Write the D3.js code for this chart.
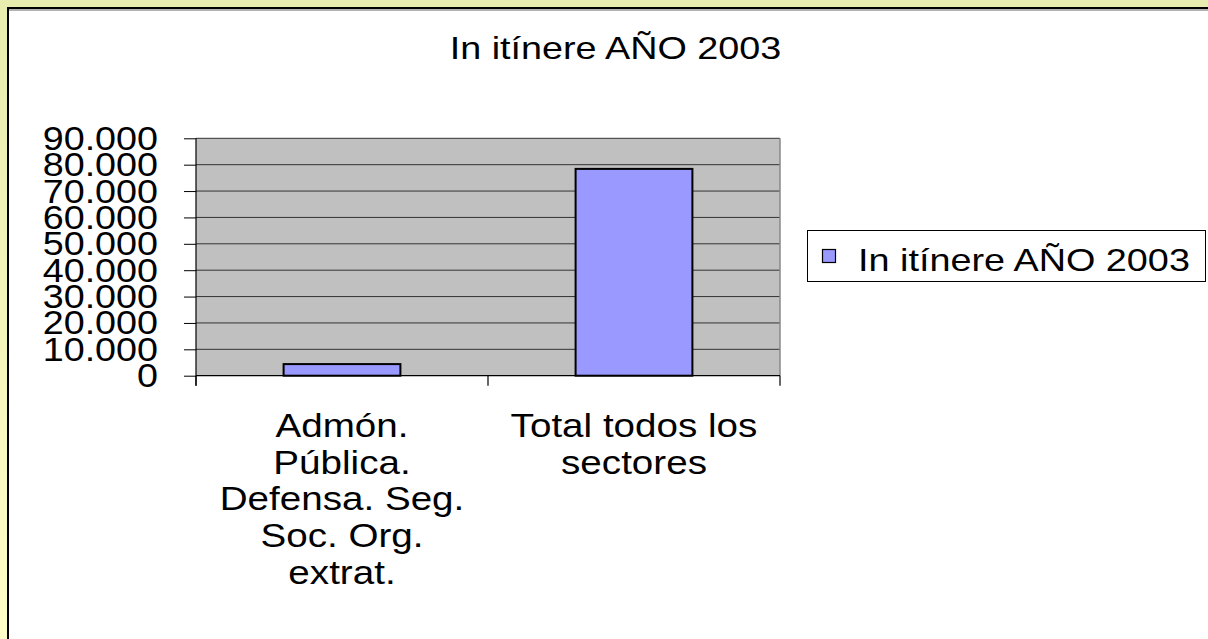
<!DOCTYPE html>
<html><head><meta charset="utf-8">
<script src="https://cdn.jsdelivr.net/npm/d3@7"></script>
<style>html,body{margin:0;padding:0;background:#fff;}svg{display:block;}</style>
</head><body>
<script>
const title = "In itínere AÑO 2003";
const seriesName = "In itínere AÑO 2003";
const categories = [
  ["Admón.", "Pública.", "Defensa. Seg.", "Soc. Org.", "extrat."],
  ["Total todos los", "sectores"]
];
const values = [4400, 78400];
const yTicks = [0, 10000, 20000, 30000, 40000, 50000, 60000, 70000, 80000, 90000];

(function () {
const W = 1208, H = 639;
const svg = d3.select("body").append("svg").attr("width", W).attr("height", H);
const defs = svg.append("defs");
const grad = defs.append("linearGradient").attr("id", "bg").attr("x1", 0).attr("y1", 0).attr("x2", 0).attr("y2", 1);
grad.append("stop").attr("offset", "0%").attr("stop-color", "#e8ecae");
grad.append("stop").attr("offset", "100%").attr("stop-color", "#fffdc8");
svg.append("rect").attr("width", W).attr("height", H).attr("fill", "url(#bg)");
svg.append("rect").attr("x", 8).attr("y", 8).attr("width", W + 10).attr("height", H + 10)
  .attr("fill", "#fff");
svg.append("line").attr("x1", 8).attr("x2", W).attr("y1", 10).attr("y2", 10).attr("stroke", "#999").attr("stroke-width", 1.5);
svg.append("line").attr("x1", 7).attr("x2", W).attr("y1", 8).attr("y2", 8).attr("stroke", "#000").attr("stroke-width", 2);
svg.append("line").attr("x1", 8).attr("x2", 8).attr("y1", 7).attr("y2", H).attr("stroke", "#000").attr("stroke-width", 2);

const font = "Liberation Sans, Arial, sans-serif";
function stext(g, x, y, txt, size, sx, anchor) {
  return g.append("text")
    .attr("transform", `translate(${x},${y}) scale(${sx},1)`)
    .attr("text-anchor", anchor)
    .attr("font-family", font).attr("font-size", size).attr("fill", "#000")
    .text(txt);
}

// Title
stext(svg, 615.5, 59, title, 32, 1.18, "middle");

const pLeft = 196, pRight = 780, pTop = 138.3, pBottom = 375.7;
const x = d3.scaleBand().domain(d3.range(values.length)).range([pLeft, pRight]).paddingInner(0.6).paddingOuter(0.3);
const y = d3.scaleLinear().domain([0, 90000]).range([pBottom, pTop]);

// plot bg
svg.append("rect").attr("x", pLeft).attr("y", pTop).attr("width", pRight - pLeft).attr("height", pBottom - pTop).attr("fill", "#c0c0c0");
// gridlines
svg.append("g").selectAll("line").data(yTicks.filter(d => d > 0)).join("line")
  .attr("x1", pLeft).attr("x2", pRight).attr("y1", d => y(d)).attr("y2", d => y(d))
  .attr("stroke", "#333").attr("stroke-width", 1);
// right border
svg.append("line").attr("x1", pRight).attr("x2", pRight).attr("y1", pTop).attr("y2", pBottom).attr("stroke", "#888").attr("stroke-width", 1.5);

// bars
svg.append("g").selectAll("rect").data(values).join("rect")
  .attr("x", (d, i) => x(i)).attr("width", x.bandwidth())
  .attr("y", d => y(d)).attr("height", d => y(0) - y(d))
  .attr("fill", "#9999ff").attr("stroke", "#000").attr("stroke-width", 2);

// y axis
const yAxis = d3.axisLeft(y).tickValues(yTicks).tickSize(12).tickFormat("");
const gy = svg.append("g").attr("transform", `translate(${pLeft},0)`).call(yAxis);
gy.select(".domain").remove();
gy.selectAll(".tick line").attr("stroke", "#000");
svg.append("line").attr("x1", pLeft).attr("x2", pLeft).attr("y1", pTop).attr("y2", pBottom + 10).attr("stroke", "#000").attr("stroke-width", 1.2);
const fmt = d => d3.format(",")(d).replace(/,/g, ".");
yTicks.forEach(t => stext(svg, 158, y(t) + 11.5, fmt(t), 32.5, 1.16, "end"));

// x axis
svg.append("line").attr("x1", pLeft).attr("x2", pRight).attr("y1", pBottom).attr("y2", pBottom).attr("stroke", "#000").attr("stroke-width", 1.2);
const xTickPos = d3.range(values.length + 1).map(i => pLeft + i * ((pRight - pLeft) / values.length));
svg.append("g").selectAll("line").data(xTickPos).join("line")
  .attr("x1", d => d).attr("x2", d => d).attr("y1", pBottom).attr("y2", pBottom + 10)
  .attr("stroke", "#000").attr("stroke-width", 1.2);
categories.forEach((lines, i) => {
  const cx = x(i) + x.bandwidth() / 2;
  lines.forEach((ln, j) => stext(svg, cx, 437 + j * 36.7, ln, 33, 1.17, "middle"));
});

// legend
svg.append("rect").attr("x", 807.5).attr("y", 230.5).attr("width", 398).attr("height", 51)
  .attr("fill", "#fff").attr("stroke", "#000").attr("stroke-width", 1);
svg.append("rect").attr("x", 822.5).attr("y", 249.5).attr("width", 13).attr("height", 13)
  .attr("fill", "#9999ff").attr("stroke", "#000").attr("stroke-width", 1.2);
stext(svg, 858, 270.5, seriesName, 31.5, 1.2, "start");
})();
</script>
</body></html>
